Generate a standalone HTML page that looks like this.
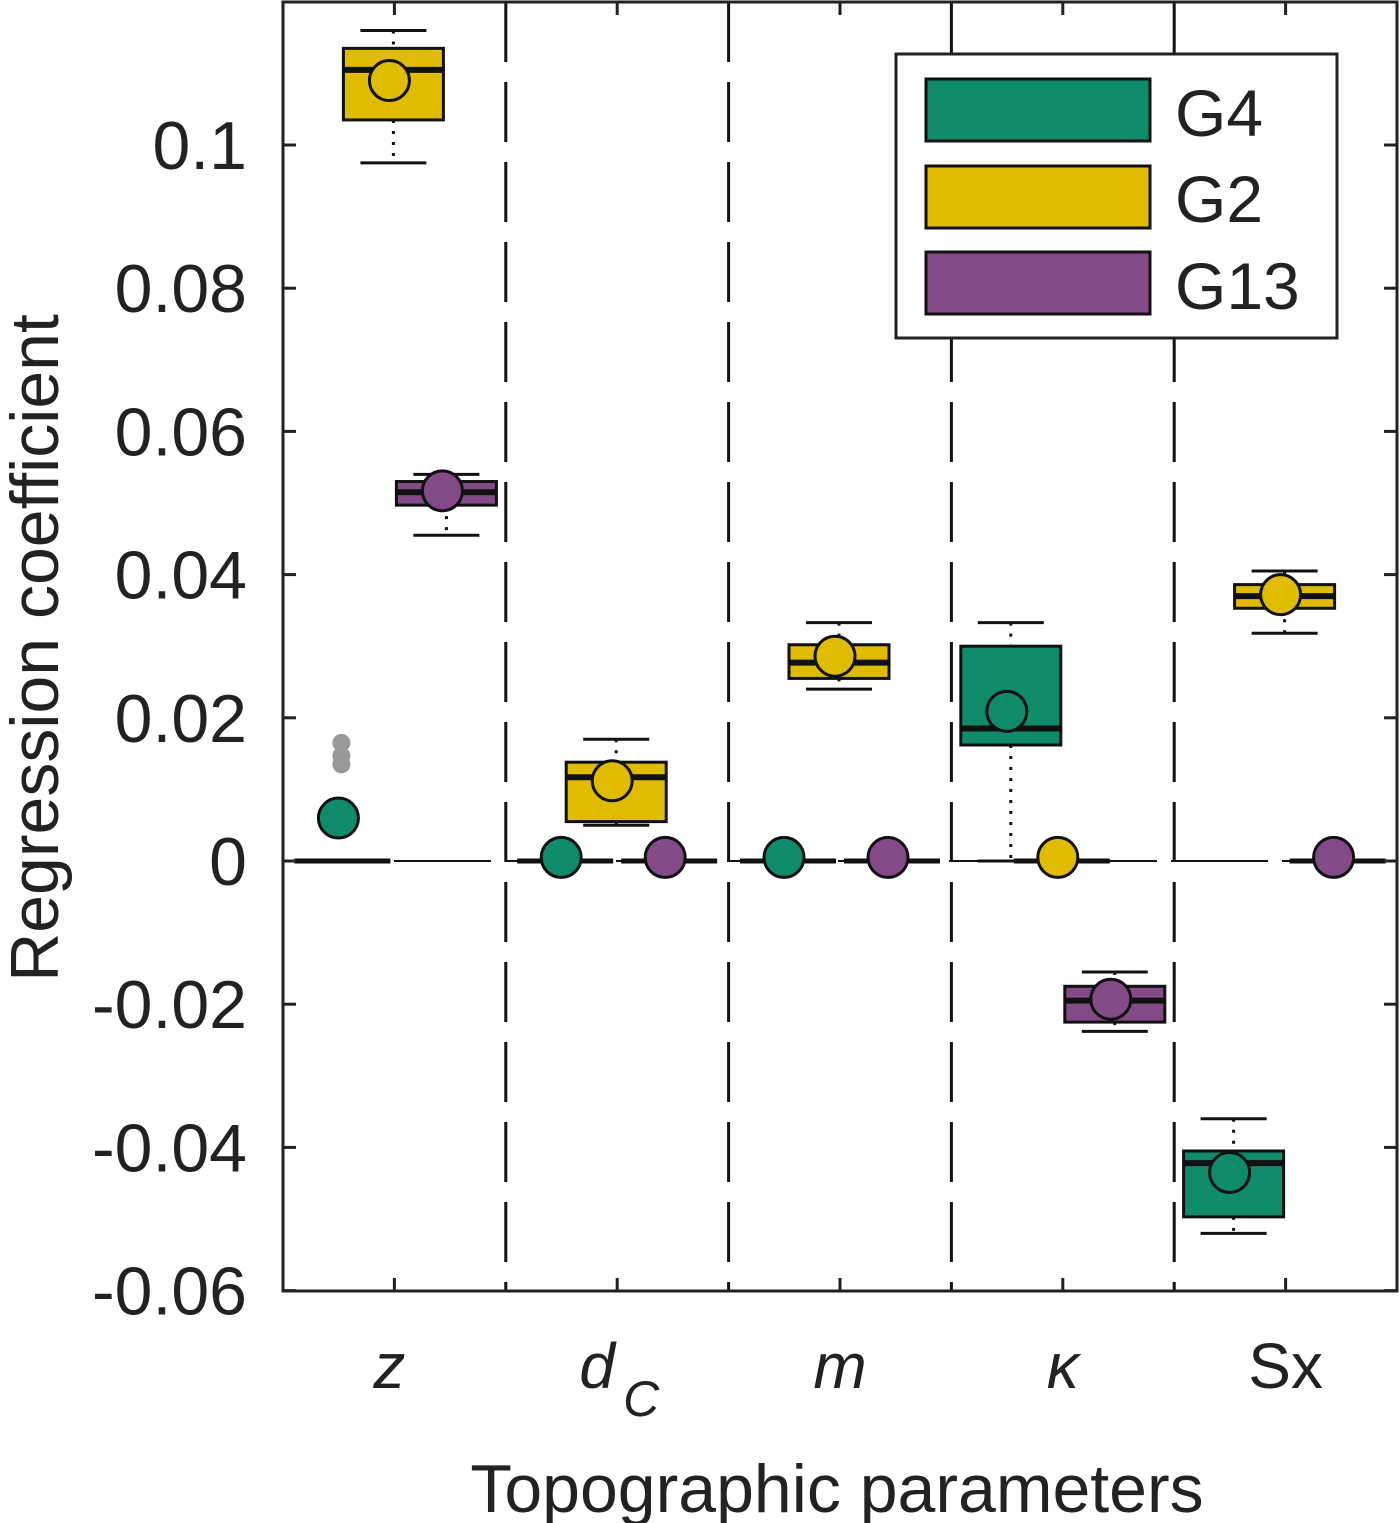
<!DOCTYPE html>
<html><head><meta charset="utf-8"><style>
body{margin:0;background:#fff}
svg{display:block;font-family:"Liberation Sans",Arial,sans-serif}
</style></head><body>
<svg id="chart" width="1400" height="1523" viewBox="0 0 1400 1523">
<g id="plot"></g>
<g id="legend">
<rect x="896" y="54" width="441" height="284" fill="#fff" stroke="#222" stroke-width="3"/>
<rect x="926" y="79" width="224" height="62" fill="#0f8a6a" stroke="#111" stroke-width="3"/>
<text x="1175" y="136" font-size="66" fill="#222">G4</text>
<rect x="926" y="166" width="224" height="62" fill="#e0bc00" stroke="#111" stroke-width="3"/>
<text x="1175" y="222" font-size="66" fill="#222">G2</text>
<rect x="926" y="252" width="224" height="62" fill="#834a87" stroke="#111" stroke-width="3"/>
<text x="1175" y="309" font-size="66" fill="#222">G13</text>
</g>
<text transform="translate(58,648) rotate(-90)" text-anchor="middle" font-size="68" fill="#222">Regression coefficient</text>
<text x="837" y="1512" text-anchor="middle" font-size="68" fill="#222">Topographic parameters</text>
</svg>
<script>
const categories = ['z','dC','m','kappa','Sx'];
const yTicks = [-0.06,-0.04,-0.02,0,0.02,0.04,0.06,0.08,0.1];
const yTickLabels = ['-0.06','-0.04','-0.02','0','0.02','0.04','0.06','0.08','0.1'];
const groups = ['G4','G2','G13'];
// per group, per category: [whiskerLow, boxLow, median, boxHigh, whiskerHigh, mean]
const g4Stats = [[0,0,0,0,0,0.006],[0,0,0,0,0,0.0005],[0,0,0,0,0,0.0005],[0,0.0162,0.0185,0.0300,0.0333,0.0209],[-0.052,-0.0497,-0.0422,-0.0405,-0.036,-0.0435]];
const g2Stats = [[0.0975,0.1035,0.1105,0.1135,0.116,0.109],[0.005,0.0055,0.0117,0.0138,0.017,0.0112],[0.024,0.0255,0.0277,0.0302,0.0333,0.0286],[0,0,0,0,0,0.0005],[0.0318,0.0353,0.037,0.0386,0.0405,0.0372]];
const g13Stats = [[0.0455,0.0497,0.0515,0.053,0.054,0.0517],[0,0,0,0,0,0.0005],[0,0,0,0,0,0.0005],[-0.0238,-0.0225,-0.0195,-0.0175,-0.0155,-0.0193],[0,0,0,0,0,0.0005]];
const outlierCat = [0,0,0];
const outlierVals = [0.0165,0.0147,0.0135];

const L=283,R=1397,T=2,B=1291;
const X=v=>L+(v-0.5)/5*(R-L);
const Y=v=>861-v*7160;
const NS='http://www.w3.org/2000/svg';
const plot=document.getElementById('plot');
function mk(tag,attrs,name,parent){const e=document.createElementNS(NS,tag);for(const k in attrs)e.setAttribute(k,attrs[k]);


(parent||plot).appendChild(e);return e;}

for(let i=1;i<5;i++){mk('line',{x1:X(i+0.5),x2:X(i+0.5),y1:T,y2:B,stroke:'#111','stroke-width':3,'stroke-dasharray':'60,20'},'category-separator');}
mk('line',{x1:L,x2:R,y1:Y(0),y2:Y(0),stroke:'#111','stroke-width':2,'stroke-dasharray':'97,14'},'zero-line');

const cols={G4:'#0f8a6a',G2:'#e0bc00',G13:'#834a87'};
const sets={G4:g4Stats,G2:g2Stats,G13:g13Stats};
groups.forEach(g=>{
  sets[g].forEach((s,i)=>{
    const w=100;
    const bx=X(i+1)+(g==='G4'?-52:g==='G2'?-1:52);
    const [wl,bl,md,bh,wh,mn]=s;
    if(bh-bl===0&&wh-wl===0){
      mk('line',{x1:bx-48,x2:bx+48,y1:Y(md),y2:Y(md),stroke:'#111','stroke-width':5},'box-'+g+'-'+categories[i]);
    }else{
      mk('line',{x1:bx,x2:bx,y1:Y(wh),y2:Y(bh),stroke:'#111','stroke-width':3,'stroke-dasharray':'3,8'},'whisker-'+g+'-'+categories[i]);
      mk('line',{x1:bx,x2:bx,y1:Y(bl),y2:Y(wl),stroke:'#111','stroke-width':3,'stroke-dasharray':'3,8'},'whisker-'+g+'-'+categories[i]);
      mk('line',{x1:bx-33,x2:bx+33,y1:Y(wh),y2:Y(wh),stroke:'#111','stroke-width':3},'whisker-cap-'+g+'-'+categories[i]);
      mk('line',{x1:bx-33,x2:bx+33,y1:Y(wl),y2:Y(wl),stroke:'#111','stroke-width':3},'whisker-cap-'+g+'-'+categories[i]);
      mk('rect',{x:bx-w/2,y:Y(bh),width:w,height:Y(bl)-Y(bh),fill:cols[g],stroke:'#111','stroke-width':3},'box-'+g+'-'+categories[i]);
      mk('line',{x1:bx-w/2,x2:bx+w/2,y1:Y(md),y2:Y(md),stroke:'#111','stroke-width':6},'median-'+g+'-'+categories[i]);
    }
    mk('circle',{cx:bx-4,cy:Y(mn),r:20,fill:cols[g],stroke:'#111','stroke-width':3},'mean-'+g+'-'+categories[i]);
  });
});
outlierVals.forEach((v,k)=>{mk('circle',{cx:X(outlierCat[k]+1)-53,cy:Y(v),r:9,fill:'#999'},'outlier-g4-z');});

mk('rect',{x:L,y:T,width:R-L,height:B-T,fill:'none',stroke:'#222','stroke-width':3},'axes-box');
yTicks.forEach((v,i)=>{
  mk('line',{x1:L,x2:L+13,y1:Y(v),y2:Y(v),stroke:'#222','stroke-width':3},'y-tick');
  mk('line',{x1:R-13,x2:R,y1:Y(v),y2:Y(v),stroke:'#222','stroke-width':3},'y-tick-right');
  const t=mk('text',{x:247,y:Y(v)+24,'text-anchor':'end','font-size':68,fill:'#222'},'y-tick-label');t.textContent=yTickLabels[i];
});
categories.forEach((c,i)=>{
  mk('line',{x1:X(i+1),x2:X(i+1),y1:B,y2:B-13,stroke:'#222','stroke-width':3},'x-tick');
  mk('line',{x1:X(i+1),x2:X(i+1),y1:T,y2:T+13,stroke:'#222','stroke-width':3},'x-tick-top');
});
const lx=[['z',true],['d',true],['m',true],['κ',true],['Sx',false]];
lx.forEach((l,i)=>{
  const t=mk('text',{x:X(i+1)+(i===1?-20:0)+(i===0?-5:0),y:1388,'text-anchor':'middle','font-size':64,fill:'#222','font-style':l[1]?'italic':'normal'},'x-tick-label-'+categories[i]);t.textContent=l[0];
});
const sub=mk('text',{x:X(2)+24,y:1416,'text-anchor':'middle','font-size':50,fill:'#222','font-style':'italic'},'x-tick-label-subscript');sub.textContent='C';
</script>
</body></html>
